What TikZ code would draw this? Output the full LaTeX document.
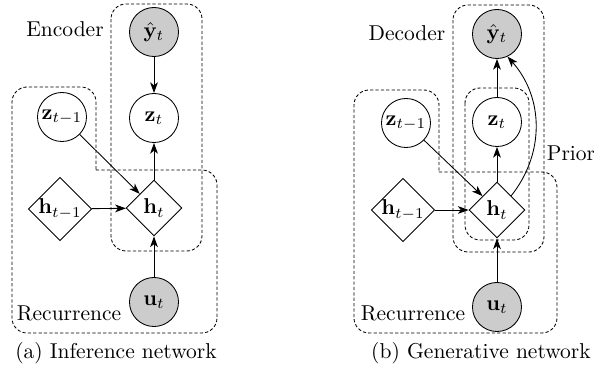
\documentclass[tikz,border=0pt]{standalone}
\usepackage{amsmath,amssymb,bm}
\usetikzlibrary{positioning, arrows.meta, shapes.geometric}
\tikzset{
  lat/.style={
      circle,
      draw,
      minimum size=22.8pt,
      inner sep=0pt
    },
  obs/.style={
      lat,
      fill=gray!40
    },
  det/.style={
      diamond,
      draw,
      minimum size=26pt,
      inner sep=0pt
    },
  arr/.style={
      -{Stealth[length=5pt,width=3.6pt,inset=1.4pt]}
    },
  grp/.style={
      draw,
      dash pattern=on 1.5pt off 1pt,
      rounded corners=7pt
    }
}

\begin{document}
\begin{tikzpicture}[x=0.465pt, y=-0.465pt]
  \useasboundingbox (0,0) rectangle (594,381);
  % (a) inference network
  \node[obs] (yA) at (154,32) {$\hat{\mathbf{y}}_t$};
  \node[lat] (zA) at (154,118) {$\mathbf{z}_t$};
  \node[lat] (zpA) at (62,117) {$\mathbf{z}_{t-1}$};
  \node[det] (hA) at (154,208) {$\mathbf{h}_t$};
  \node[det] (hpA) at (60,209) {$\mathbf{h}_{t-1}$};
  \node[obs] (uA) at (154,302) {$\mathbf{u}_t$};
  \node (encA) at (65,29) {Encoder};
  \node (recA) at (69,313) {Recurrence};
  \node (capA) at (116,353) {(a) Inference network};
  \draw[grp] (111,4) rectangle (202,251);
  \draw[grp] (96,170) -- (217,170) -- (217,333) -- (12,333) -- (12,87) -- (96,87) -- (96,170);
  \draw[arr] (yA) -- (zA);
  \draw[arr] (hA) -- (zA);
  \draw[arr] (zpA) -- (hA);
  \draw[arr] (hpA) -- (hA);
  \draw[arr] (uA) -- (hA);
  % (b) generative network
  \node[obs] (yB) at (497,34) {$\hat{\mathbf{y}}_t$};
  \node[lat] (zB) at (497,122) {$\mathbf{z}_t$};
  \node[lat] (zpB) at (406,123) {$\mathbf{z}_{t-1}$};
  \node[det] (hB) at (497,210) {$\mathbf{h}_t$};
  \node[det] (hpB) at (403,210) {$\mathbf{h}_{t-1}$};
  \node[obs] (uB) at (497,307) {$\mathbf{u}_t$};
  \node (decB) at (407,33) {Decoder};
  \node (priB) at (571,153) {Prior};
  \node (recB) at (413,313) {Recurrence};
  \node (capB) at (481,353) {(b) Generative network};
  \draw[grp] (453,5) rectangle (544,252);
  \draw[grp] (465,88) rectangle (529,240);
  \draw[grp] (439,172) -- (557,172) -- (557,333) -- (354,333) -- (354,90) -- (439,90) -- (439,172);
  \draw[arr] (zB) -- (yB);
  \draw[arr] (hB) -- (zB);
  \draw[arr] (zpB) -- (hB);
  \draw[arr] (hpB) -- (hB);
  \draw[arr] (uB) -- (hB);
  \draw[arr] (hB.north east) to[bend right=40] (yB.-65);
\end{tikzpicture}
\end{document}
